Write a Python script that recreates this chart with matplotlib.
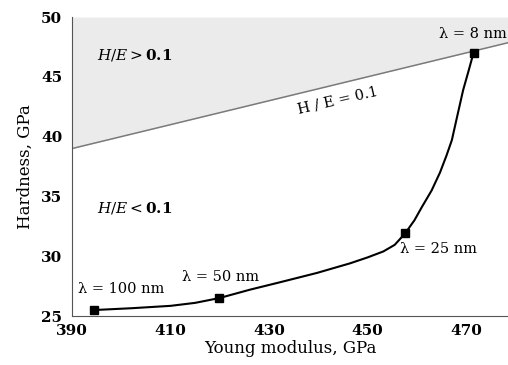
import numpy as np
import matplotlib.pyplot as plt

plt.rcParams['font.family'] = ['DejaVu Serif']
plt.rcParams['mathtext.fontset'] = 'dejavuserif'

# punkty pomiarowe (okres warstw lambda)
E_pts = [394.5, 419.9, 457.6, 471.5]
H_pts = [25.5, 26.5, 31.9, 47.0]
etykiety = ['λ = 100 nm', 'λ = 50 nm', 'λ = 25 nm', 'λ = 8 nm']
etykiety_xy = [(391.2, 27.3), (412.3, 28.3), (456.6, 30.6), (464.4, 48.6)]

# krzywa przez punkty
E_krzywa = [394.5, 402, 410, 415, 419.9, 426.1, 432, 439.7, 446.4, 450, 453.2,
            455.5, 457.6, 459.5, 461, 463, 464.7, 466, 467.1, 468.3, 469.4,
            470.5, 471.5]
H_krzywa = [25.5, 25.65, 25.85, 26.1, 26.5, 27.2, 27.8, 28.6, 29.4, 29.9, 30.4,
            30.95, 31.9, 33.0, 34.1, 35.5, 37.0, 38.4, 39.7, 41.9, 43.9,
            45.5, 47.0]

granica = 0.1  # H/E
E_zakres = [390, 478.5]
H_zakres = [25, 50]

fig = plt.figure(figsize=(5.08, 3.65), dpi=100)
ax = fig.add_axes([0.1417, 0.1342, 0.8583, 0.8192])

E_lin = np.array(E_zakres)
ax.fill_between(E_lin, granica * E_lin, H_zakres[1], color='#ebebeb', lw=0, zorder=0)
ax.plot(E_lin, granica * E_lin, color='#7a7a7a', lw=1.1, zorder=1)

ax.plot(E_krzywa, H_krzywa, color='black', lw=1.5, zorder=2)
ax.plot(E_pts, H_pts, 's', color='black', ms=5.5, zorder=3)

for tekst, (x, y) in zip(etykiety, etykiety_xy):
    ax.text(x, y, tekst, fontsize=10.5, va='center', ha='left')

ax.text(395, 46.8, r'$H/E > \mathbf{0.1}$', fontsize=11, va='center')
ax.text(395, 34.0, r'$H/E < \mathbf{0.1}$', fontsize=11, va='center')
ax.text(444.0, 43.0, 'H / E = 0.1', fontsize=10.5, va='center', ha='center',
        rotation=13)

ax.set_xlim(E_zakres)
ax.set_ylim(H_zakres)
ax.set_xticks([390, 410, 430, 450, 470])
ax.set_yticks([25, 30, 35, 40, 45, 50])
ax.tick_params(axis='x', length=0, labelsize=11, pad=6)
ax.tick_params(axis='y', length=0, labelsize=11, pad=7)
for lab in ax.get_xticklabels() + ax.get_yticklabels():
    lab.set_fontweight('bold')
ax.spines['top'].set_visible(False)
ax.spines['right'].set_visible(False)
ax.spines['left'].set_color('#555555')
ax.spines['bottom'].set_color('#555555')

ax.set_xlabel('Young modulus, GPa', fontsize=12, labelpad=1)
ax.set_ylabel('Hardness, GPa', fontsize=12, labelpad=5)

fig.savefig('out.png', dpi=100)
